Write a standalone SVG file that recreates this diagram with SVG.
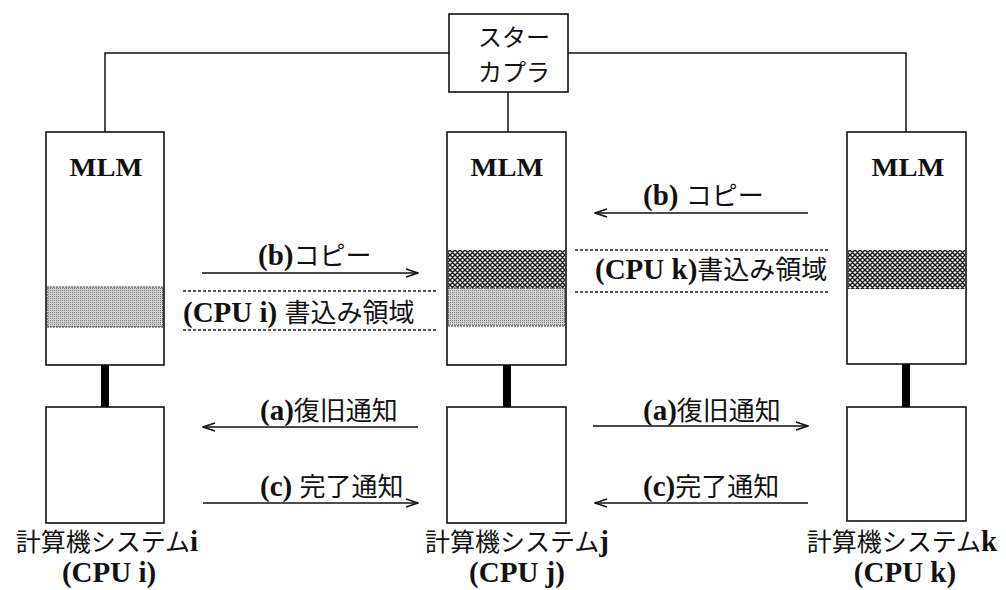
<svg xmlns="http://www.w3.org/2000/svg" width="1006" height="590" viewBox="0 0 1006 590">
<defs>
<style>
.box{fill:#fff;stroke:#111;stroke-width:1.6}
.ln{fill:none;stroke:#111;stroke-width:1.5}
.bus{stroke:#000;stroke-width:8}
.dot{fill:none;stroke:#222;stroke-width:1.5;stroke-dasharray:3 2}
.arr{fill:none;stroke:#111;stroke-width:1.5}
.lat{font-family:"Liberation Serif","Times New Roman",serif;font-weight:bold}
.jp{font-family:"Noto Sans CJK JP","Noto Sans",sans-serif;font-weight:normal}
text{fill:#111}
.lbl{font-size:29px}
.lbl .jp{font-size:26px}
.bl .jp{font-size:25px}
.mlm{font-family:"Liberation Serif",serif;font-weight:bold;font-size:26px}
.stip{fill:url(#stip);stroke:#333;stroke-width:1;stroke-dasharray:2 1}
.hatch{fill:url(#hatch);stroke:none}
</style>
<pattern id="stip" width="2" height="2" patternUnits="userSpaceOnUse">
<rect width="2" height="2" fill="#d4d4d4"/>
<rect width="1" height="1" fill="#7a7a7a"/>
</pattern>
<pattern id="hatch" width="5" height="5" patternUnits="userSpaceOnUse">
<rect width="5" height="5" fill="#fff"/>
<path d="M0,0 L5,5 M5,0 L0,5 M-1,4 L1,6 M4,-1 L6,1 M4,6 L6,4 M-1,1 L1,-1" stroke="#1a1a1a" stroke-width="1.5"/>
</pattern>
<marker id="ah" markerWidth="14" markerHeight="10" refX="13" refY="5" orient="auto" markerUnits="userSpaceOnUse">
<path d="M1,1 L13,5 L1,9" fill="none" stroke="#111" stroke-width="1.4"/>
</marker>
</defs>

<g id="connectors">
<path class="ln" d="M105,132 V53 H449"/>
<path class="ln" d="M568,53 H906 V132"/>
<line class="ln" x1="508" y1="92" x2="508" y2="132"/>
<line class="bus" x1="105" y1="365" x2="105" y2="407"/>
<line class="bus" x1="507" y1="365" x2="507" y2="407"/>
<line class="bus" x1="906" y1="364" x2="906" y2="407"/>
<line class="arr" x1="202" y1="273" x2="418" y2="273" marker-end="url(#ah)"/>
<line class="arr" x1="808" y1="213" x2="595" y2="213" marker-end="url(#ah)"/>
<line class="arr" x1="418" y1="427" x2="203" y2="427" marker-end="url(#ah)"/>
<line class="arr" x1="203" y1="503" x2="418" y2="503" marker-end="url(#ah)"/>
<line class="arr" x1="593" y1="426" x2="808" y2="426" marker-end="url(#ah)"/>
<line class="arr" x1="808" y1="503" x2="595" y2="503" marker-end="url(#ah)"/>
<line class="dot" x1="183" y1="291" x2="437" y2="291"/>
<line class="dot" x1="183" y1="330" x2="437" y2="330"/>
<line class="dot" x1="575" y1="250" x2="828" y2="250"/>
<line class="dot" x1="575" y1="292" x2="828" y2="292"/>
</g>

<g id="star-coupler">
<rect class="box" x="449" y="14" width="119" height="78"/>
<text class="jp" font-size="24" x="478" y="46">スター</text>
<text class="jp" font-size="24" x="478" y="81">カプラ</text>
</g>

<g id="mlm-i">
<rect class="box" x="46" y="132" width="118" height="233"/>
<rect class="stip" x="47" y="287" width="116" height="40"/>
<text class="mlm" x="106" y="176" text-anchor="middle" textLength="73" lengthAdjust="spacingAndGlyphs">MLM</text>
</g>
<g id="mlm-j">
<rect class="box" x="447" y="132" width="119" height="233"/>
<rect class="hatch" x="448" y="250" width="117" height="38"/>
<rect class="stip" x="448" y="288" width="117" height="38"/>
<text class="mlm" x="507" y="176" text-anchor="middle" textLength="73" lengthAdjust="spacingAndGlyphs">MLM</text>
</g>
<g id="mlm-k">
<rect class="box" x="847" y="132" width="119" height="232"/>
<rect class="hatch" x="848" y="250" width="117" height="39"/>
<text class="mlm" x="908" y="176" text-anchor="middle" textLength="73" lengthAdjust="spacingAndGlyphs">MLM</text>
</g>

<g id="cpu-i">
<rect class="box" x="46" y="407" width="118" height="116"/>
<text class="lbl bl" x="107" y="551" text-anchor="middle"><tspan class="jp">計算機システム</tspan><tspan class="lat">i</tspan></text>
<text class="lbl lat" x="109" y="582" text-anchor="middle">(CPU i)</text>
</g>
<g id="cpu-j">
<rect class="box" x="447" y="407" width="119" height="116"/>
<text class="lbl bl" x="517" y="551" text-anchor="middle"><tspan class="jp">計算機システム</tspan><tspan class="lat">j</tspan></text>
<text class="lbl lat" x="517" y="582" text-anchor="middle">(CPU j)</text>
</g>
<g id="cpu-k">
<rect class="box" x="847" y="407" width="119" height="114"/>
<text class="lbl bl" x="902" y="551" text-anchor="middle"><tspan class="jp">計算機システム</tspan><tspan class="lat">k</tspan></text>
<text class="lbl lat" x="905" y="582" text-anchor="middle">(CPU k)</text>
</g>

<g id="labels">
<text class="lbl" x="258" y="265"><tspan class="lat">(b)</tspan><tspan class="jp">コピー</tspan></text>
<text class="lbl" x="183" y="322"><tspan class="lat">(CPU i) </tspan><tspan class="jp">書込み領域</tspan></text>
<text class="lbl" x="643" y="205"><tspan class="lat">(b) </tspan><tspan class="jp">コピー</tspan></text>
<text class="lbl" x="595" y="279"><tspan class="lat">(CPU k)</tspan><tspan class="jp">書込み領域</tspan></text>
<text class="lbl" x="260" y="420"><tspan class="lat">(a)</tspan><tspan class="jp">復旧通知</tspan></text>
<text class="lbl" x="260" y="496"><tspan class="lat">(c) </tspan><tspan class="jp">完了通知</tspan></text>
<text class="lbl" x="643" y="420"><tspan class="lat">(a)</tspan><tspan class="jp">復旧通知</tspan></text>
<text class="lbl" x="643" y="496"><tspan class="lat">(c)</tspan><tspan class="jp">完了通知</tspan></text>
</g>
</svg>
